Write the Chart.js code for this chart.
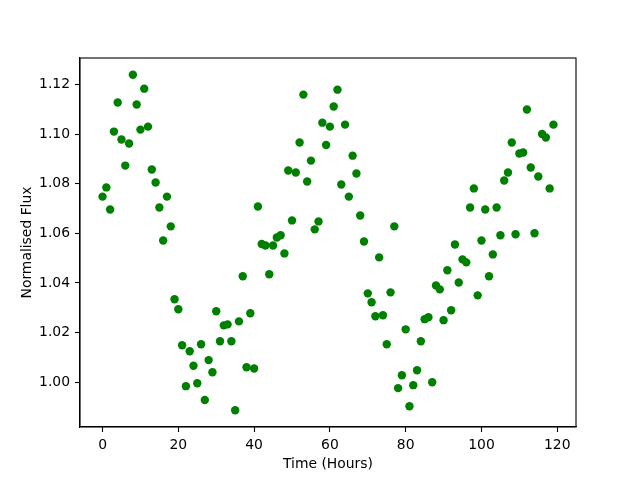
<!DOCTYPE html>
<html>
<head>
<meta charset="utf-8">
<script src="https://cdn.jsdelivr.net/npm/chart.js@4/dist/chart.umd.min.js"></script>
<style>
  body { margin: 0; background: #fff; }
</style>
</head>
<body>
<canvas id="fluxChart" width="640" height="480"></canvas>
<script>
// time of each sample (hours)
const hours = [
  0, 1, 2, 3, 4, 5, 6, 7, 8, 9, 10, 11, 12, 13, 14, 15, 16, 17, 18, 19,
  20, 21, 22, 23, 24, 25, 26, 27, 28, 29, 30, 31, 32, 33, 34, 35, 36, 37, 38, 39,
  40, 41, 42, 43, 44, 45, 46, 47, 48, 49, 50, 51, 52, 53, 54, 55, 56, 57, 58, 59,
  60, 61, 62, 63, 64, 65, 66, 67, 68, 69, 70, 71, 72, 73, 74, 75, 76, 77, 78, 79,
  80, 81, 82, 83, 84, 85, 86, 87, 88, 89, 90, 91, 92, 93, 94, 95, 96, 97, 98, 99,
  100, 101, 102, 103, 104, 105, 106, 107, 108, 109, 110, 111, 112, 113, 114, 115, 116, 117, 118, 119
];

// normalised flux
const flux = [
  1.0748, 1.0785, 1.0696, 1.1010, 1.1127, 1.0978, 1.0873, 1.0962, 1.1239, 1.1119,
  1.1018, 1.1183, 1.1030, 1.0857, 1.0805, 1.0704, 1.0571, 1.0748, 1.0628, 1.0334,
  1.0294, 1.0149, 0.9984, 1.0125, 1.0066, 0.9996, 1.0153, 0.9928, 1.0089, 1.0040,
  1.0286, 1.0165, 1.0229, 1.0233, 1.0165, 0.9887, 1.0245, 1.0427, 1.0060, 1.0278,
  1.0055, 1.0708, 1.0557, 1.0551, 1.0435, 1.0551, 1.0583, 1.0592, 1.0519, 1.0853,
  1.0652, 1.0845, 1.0966, 1.1159, 1.0809, 1.0893, 1.0616, 1.0648, 1.1046, 1.0956,
  1.1030, 1.1111, 1.1179, 1.0797, 1.1038, 1.0748, 1.0913, 1.0841, 1.0672, 1.0567,
  1.0358, 1.0322, 1.0266, 1.0503, 1.0270, 1.0153, 1.0362, 1.0628, 0.9976, 1.0028,
  1.0213, 0.9903, 0.9988, 1.0048, 1.0165, 1.0254, 1.0262, 1.0000, 1.0390, 1.0374,
  1.0250, 1.0451, 1.0290, 1.0555, 1.0402, 1.0495, 1.0483, 1.0704, 1.0781, 1.0350,
  1.0571, 1.0696, 1.0427, 1.0515, 1.0704, 1.0592, 1.0813, 1.0845, 1.0966, 1.0596,
  1.0922, 1.0926, 1.1099, 1.0865, 1.0600, 1.0829, 1.1000, 1.0986, 1.0781, 1.1038
];

const xTicks = [0, 20, 40, 60, 80, 100, 120];
const yTicks = [1.00, 1.02, 1.04, 1.06, 1.08, 1.10, 1.12];

// matplotlib style 5% margins
const xMin = Math.min(...hours), xMax = Math.max(...hours);
const yMin = Math.min(...flux), yMax = Math.max(...flux);
const xPad = (xMax - xMin) * 0.05;
const yPad = (yMax - yMin) * 0.05;

Chart.defaults.font.family = "'DejaVu Sans', sans-serif";
Chart.defaults.font.size = 13.9;
Chart.defaults.color = '#000';

// full box around the plot area
const frameBox = {
  id: 'frameBox',
  afterDraw(chart) {
    const a = chart.chartArea;
    const ctx = chart.ctx;
    ctx.save();
    ctx.strokeStyle = '#000';
    ctx.lineWidth = 1.1;
    ctx.strokeRect(a.left, a.top, a.right - a.left, a.bottom - a.top);
    ctx.restore();
  }
};

const ctx = document.getElementById('fluxChart').getContext('2d');
new Chart(ctx, {
  type: 'scatter',
  data: {
    datasets: [{
      label: 'Flux',
      data: hours.map((h, i) => ({ x: h, y: flux[i] })),
      backgroundColor: '#008000',
      borderColor: '#008000',
      borderWidth: 0,
      pointRadius: 4.2,
      pointHoverRadius: 4.2
    }]
  },
  options: {
    responsive: false,
    animation: false,
    layout: { padding: { top: 58, right: 64, left: 0, bottom: 0 } },
    plugins: {
      legend: { display: false },
      tooltip: { enabled: false }
    },
    scales: {
      x: {
        type: 'linear',
        min: xMin - xPad,
        max: xMax + xPad,
        afterBuildTicks: (s) => { s.ticks = xTicks.map(v => ({ value: v })); },
        afterFit: (s) => { s.height = 53; },
        ticks: { padding: 5, callback: (v) => v },
        grid: { drawOnChartArea: false, drawTicks: true, tickLength: 5, color: '#000', tickWidth: 1.1 },
        border: { display: true, color: '#000', width: 1.1 },
        title: { display: true, text: 'Time (Hours)', padding: { top: 0, bottom: 7 } }
      },
      y: {
        min: yMin - yPad,
        max: yMax + yPad,
        afterBuildTicks: (s) => { s.ticks = yTicks.map(v => ({ value: v })); },
        afterFit: (s) => { s.width = 80; },
        ticks: { padding: 5, callback: (v) => v.toFixed(2) },
        grid: { drawOnChartArea: false, drawTicks: true, tickLength: 5, color: '#000', tickWidth: 1.1 },
        border: { display: true, color: '#000', width: 1.1 },
        title: { display: true, text: 'Normalised Flux', padding: { top: 19, bottom: 0 } }
      }
    }
  },
  plugins: [frameBox]
});
</script>
</body>
</html>
